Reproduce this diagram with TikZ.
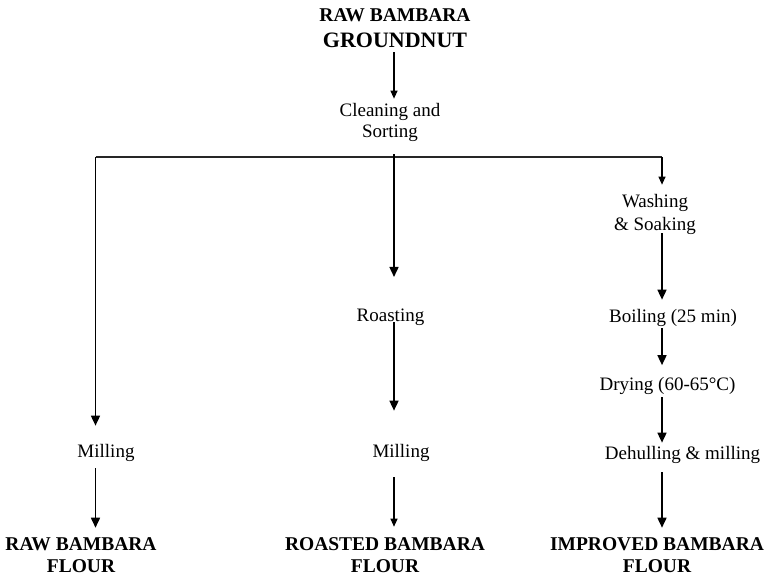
\documentclass[tikz,border=0pt]{standalone}
\usepackage{fontspec}
\setmainfont{Liberation Serif}
\usetikzlibrary{arrows.meta}
\begin{document}
\begin{tikzpicture}[x=1pt,y=-1pt,
  step text/.style={inner sep=0pt,align=center,font=\fontsize{19}{21}\selectfont},
  title text/.style={inner sep=0pt,align=center,font=\bfseries\fontsize{19.5}{22.5}\selectfont},
  bar/.style={line width=1.3pt,draw=black!85},
  arr/.style={line width=1.6pt,-{Triangle[length=10pt,width=9pt]}},
  arrthin/.style={line width=1.1pt,-{Triangle[length=8pt,width=7pt]}}]
\useasboundingbox[fill=white] (0,0) rectangle (767,578);

% column lines
\coordinate (colL) at (95.5,0);
\coordinate (colM) at (394,0);
\coordinate (colR) at (662,0);
\coordinate (barL) at (95.5,157);
\coordinate (barR) at (662,157);
\coordinate (barT) at (394,154);

% nodes
\node[title text,font=\bfseries\fontsize{19.5}{26}\selectfont] (raw) at (395,28)
  {RAW BAMBARA\\{\fontsize{22}{26}\selectfont GROUNDNUT}};
\node[step text] (clean) at (390,122) {Cleaning and\\Sorting};

\node[step text] (millL) at (106,453) {Milling};
\node[title text] (rawfl) at (81,555) {RAW BAMBARA\\FLOUR};

\node[step text] (roast) at (390.5,317.5) {Roasting};
\node[step text] (millM) at (401,453) {Milling};
\node[title text] (roastfl) at (385,555) {ROASTED BAMBARA\\FLOUR};

\node[step text,font=\fontsize{19}{23}\selectfont] (wash) at (655,214) {Washing\\\& Soaking};
\node[step text] (boil) at (673,317.5) {Boiling (25 min)};
\node[step text] (dry) at (667.5,386) {Drying (60-65°C)};
\node[step text] (dehull) at (682.5,454.5) {Dehulling \& milling};
\node[title text] (imprfl) at (657,555) {IMPROVED BAMBARA\\FLOUR};

% connectors
\draw[arrthin,shorten <=4.5pt,shorten >=4pt] (colM |- raw.south) -- (colM |- clean.north);
\draw[bar] (barL) -- (barR);

\draw[arr,shorten >=18.5pt] (barL) -- (colL |- millL.north);
\draw[arr,shorten <=6.5pt,shorten >=9.3pt] (colL |- millL.south) -- (colL |- rawfl.north);

\draw[arr,shorten >=32pt] (barT) -- (colM |- roast.north);
\draw[arr,shorten <=-4pt,shorten >=33.5pt] (colM |- roast.south) -- (colM |- millM.north);
\draw[arrthin,shorten <=15.5pt,shorten >=10.3pt] (colM |- millM.south) -- (colM |- roastfl.north);

\draw[arrthin,shorten >=9pt] (barR) -- (colR |- wash.north);
\draw[arr,shorten <=-1pt,shorten >=9pt] (colR |- wash.south) -- (colR |- boil.north);
\draw[arr,shorten <=2pt,shorten >=12pt] (colR |- boil.south) -- (colR |- dry.north);
\draw[arr,shorten <=2.5pt,shorten >=3pt] (colR |- dry.south) -- (colR |- dehull.north);
\draw[arr,shorten <=9pt,shorten >=9.3pt] (colR |- dehull.south) -- (colR |- imprfl.north);
\end{tikzpicture}
\end{document}
